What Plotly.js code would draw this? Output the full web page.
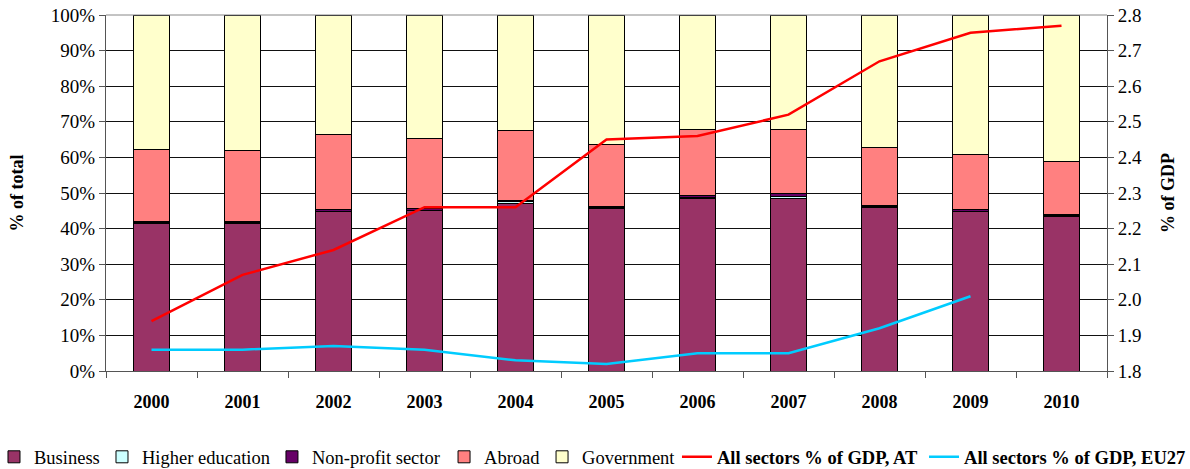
<!DOCTYPE html>
<html>
<head>
<meta charset="utf-8">
<script src="https://cdn.plot.ly/plotly-3.0.1.min.js"></script>
<style>
html,body{margin:0;padding:0;background:#fff;}
#chart{width:1190px;height:469px;}
</style>
</head>
<body>
<div id="chart"></div>
<script>
const years = ["2000","2001","2002","2003","2004","2005","2006","2007","2008","2009","2010"];
const business = [41.5, 41.5, 44.7, 45.1, 47.1, 45.7, 48.5, 48.5, 46.0, 44.8, 43.5];
const higherEducation = [0.1, 0.1, 0.1, 0.1, 0.4, 0.1, 0.3, 0.4, 0.1, 0.1, 0.1];
const nonProfit = [0.5, 0.5, 0.5, 0.5, 0.5, 0.5, 0.5, 0.9, 0.5, 0.4, 0.5];
const abroad = [20.0, 19.7, 21.2, 19.7, 19.5, 17.4, 18.4, 18.0, 16.3, 15.6, 14.8];
const government = business.map((b, i) => +(100 - b - higherEducation[i] - nonProfit[i] - abroad[i]).toFixed(1));
const gdpAT = [1.94, 2.07, 2.14, 2.26, 2.26, 2.45, 2.46, 2.52, 2.67, 2.75, 2.77];
const gdpEU27 = [1.86, 1.86, 1.87, 1.86, 1.83, 1.82, 1.85, 1.85, 1.92, 2.01, null];

const FONT = "Liberation Serif";
const outline = {color: "#000", width: 1};

function barTrace(name, values, color, legendId) {
  return {type: "bar", name: name, x: years, y: values, legend: legendId,
          marker: {color: color, line: outline}, hoverinfo: "y+name"};
}

const data = [
  barTrace("Business", business, "#993366", "legend"),
  barTrace("Higher education", higherEducation, "#CCFFFF", "legend2"),
  barTrace("Non-profit sector", nonProfit, "#660066", "legend3"),
  barTrace("Abroad", abroad, "#FF8080", "legend4"),
  barTrace("Government", government, "#FFFFCC", "legend5"),
  {type: "scatter", mode: "lines", name: "<b>All sectors % of GDP, AT</b>", legend: "legend6",
   x: years, y: gdpAT, yaxis: "y2", line: {color: "#FF0000", width: 2.5}},
  {type: "scatter", mode: "lines", name: "<b>All sectors % of GDP, EU27</b>", legend: "legend7",
   x: years, y: gdpEU27, yaxis: "y2", line: {color: "#00CCFF", width: 2.5}}
];

function legendAt(x) {
  return {orientation: "h", x: x, xanchor: "left", y: -0.189, yanchor: "top",
          font: {family: FONT, size: 18.5, color: "#000"}, bgcolor: "rgba(0,0,0,0)",
          itemwidth: 30, traceorder: "normal"};
}

const layout = {
  width: 1190, height: 469,
  margin: {l: 106, r: 83, t: 15, b: 98, pad: 0, autoexpand: false},
  paper_bgcolor: "#fff", plot_bgcolor: "#fff",
  font: {family: FONT, color: "#000", size: 18},
  barmode: "stack",
  bargap: 0.6,
  showlegend: true,
  legend: legendAt(-0.1119),
  legend2: legendAt(-0.0040),
  legend3: legendAt(0.1658),
  legend4: legendAt(0.3377),
  legend5: legendAt(0.4356),
  legend6: legendAt(0.5704),
  legend7: legendAt(0.8172),
  xaxis: {type: "category", showgrid: false, showline: true, linecolor: "#555", linewidth: 1,
          ticks: "outside", tickson: "boundaries", ticklen: 6, tickcolor: "#555",
          ticklabelstandoff: 14,
          tickfont: {family: FONT, size: 18, color: "#000", weight: "bold"},
          zeroline: false, fixedrange: true},
  yaxis: {range: [0, 100], dtick: 10, ticksuffix: "%", showgrid: true, gridcolor: "#111", gridwidth: 1,
          showline: true, linecolor: "#555", linewidth: 1, ticks: "outside", ticklen: 6, tickcolor: "#555",
          tickfont: {family: FONT, size: 19, color: "#000"}, zeroline: false,
          title: {text: "<b>% of total</b>", font: {family: FONT, size: 18, color: "#000"}, standoff: 22}},
  yaxis2: {overlaying: "y", side: "right", range: [1.8, 2.8], dtick: 0.1, tickformat: ".1f",
           showgrid: false, showline: true, linecolor: "#555", linewidth: 1, ticks: "outside", ticklen: 6,
           tickcolor: "#555", tickfont: {family: FONT, size: 19, color: "#000"}, zeroline: false,
           title: {text: "<b>% of GDP</b>", font: {family: FONT, size: 18, color: "#000"}, standoff: 20}},
  shapes: [{type: "line", xref: "paper", yref: "paper", x0: 0, x1: 1, y0: 1, y1: 1,
            line: {color: "#888", width: 1}}]
};

Plotly.newPlot("chart", data, layout, {displayModeBar: false, staticPlot: true});
</script>
</body>
</html>
